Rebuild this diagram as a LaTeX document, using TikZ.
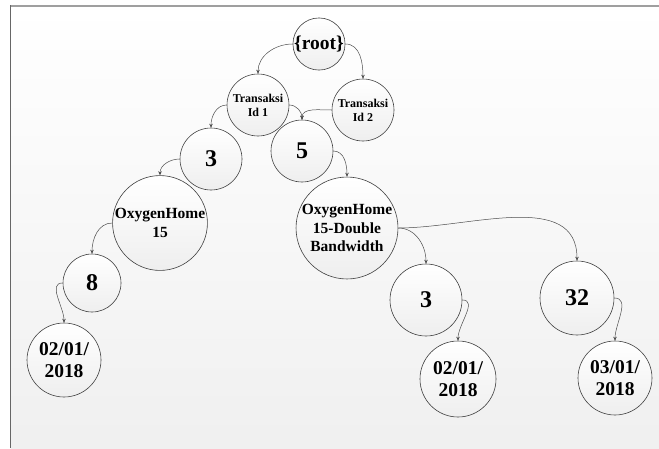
\documentclass[tikz,border=0pt]{standalone}
\usepackage{fontspec}
\setmainfont{Liberation Serif}
\usetikzlibrary{arrows.meta}

\begin{document}
\begin{tikzpicture}[
  x=1pt, y=-1pt,
  bubble/.style={circle, draw=black!75, line width=0.6pt, inner sep=0pt,
    align=center, top color=white, bottom color=gray!13},
  idtxt/.style={font=\fontsize{12}{14}\selectfont\bfseries},
  prodtxt/.style={font=\fontsize{15.5}{18.5}\selectfont\bfseries},
  datetxt/.style={font=\fontsize{19.5}{22.5}\selectfont\bfseries},
  numtxt/.style={font=\fontsize{24}{26}\selectfont\bfseries},
  link/.style={-{Stealth[length=4pt,width=3.5pt]}, black!70, line width=0.5pt}
]
  \useasboundingbox (0,0) rectangle (659,448);

  % --- page background and frame ------------------------------------------
  \fill[top color=white, bottom color=gray!12] (10.5,6) rectangle (659,448);
  \draw[gray!75, line width=2pt] (10,6) -- (659,6);
  \draw[black!60, line width=1pt] (10.5,5) -- (10.5,448);

  % --- tree nodes ----------------------------------------------------------
  \node[bubble, datetxt, minimum size=52pt] (root) at (319,44) {\{root\}};
  \node[bubble, idtxt, minimum size=62pt] (id1) at (258,105) {Transaksi\\Id 1};
  \node[bubble, idtxt, minimum size=62pt] (id2) at (363,110) {Transaksi\\Id 2};

  \node[bubble, numtxt, minimum size=62pt] (three) at (211,159) {3};
  \node[bubble, numtxt, minimum size=62pt] (five) at (302,151) {5};

  \node[bubble, prodtxt, minimum size=94pt] (oxy) at (160,223) {OxygenHome\\15};
  \node[bubble, prodtxt, minimum size=100pt] (oxyd) at (347,228)
    {OxygenHome\\15-Double\\Bandwidth};

  \node[bubble, numtxt, minimum size=58pt] (eight) at (92,283) {8};
  \node[bubble, numtxt, minimum size=72pt] (threeb) at (426,300) {3};
  \node[bubble, numtxt, minimum size=74pt] (tt) at (577,298) {32};

  \node[bubble, datetxt, minimum size=74pt] (datea) at (64,360) {02/01/\\2018};
  \node[bubble, datetxt, minimum size=76pt] (dateb) at (458,379) {02/01/\\2018};
  \node[bubble, datetxt, minimum size=74pt] (datec) at (615,378) {03/01/\\2018};

  % --- connectors ----------------------------------------------------------
  \draw[link] (root.west) to[out=180, in=90] (id1.north);
  \draw[link] (root.east) to[out=0, in=90] (id2.north);
  \draw[link] (id1.west) to[out=180, in=90] (three.north);
  \draw[link] (id1.east) to[out=0, in=90] (five.north);
  \draw[link] (id2.west) to[out=180, in=90] (five.north);
  \draw[link] (three.west) to[out=180, in=90] (oxy.north);
  \draw[link] (five.east) to[out=0, in=90] (oxyd.north);
  \draw[link] (oxy.west) to[out=180, in=90] (eight.north);
  \draw[link] (eight.west) to[out=180, in=90] (datea.north);
  \draw[link] (oxyd.east) to[out=0, in=90] (threeb.north);
  \draw[link] (oxyd.east) to[out=0, in=90] (tt.north);
  \draw[link] (threeb.east) to[out=0, in=90] (dateb.north);
  \draw[link] (tt.east) to[out=0, in=90] (datec.north);
\end{tikzpicture}
\end{document}
